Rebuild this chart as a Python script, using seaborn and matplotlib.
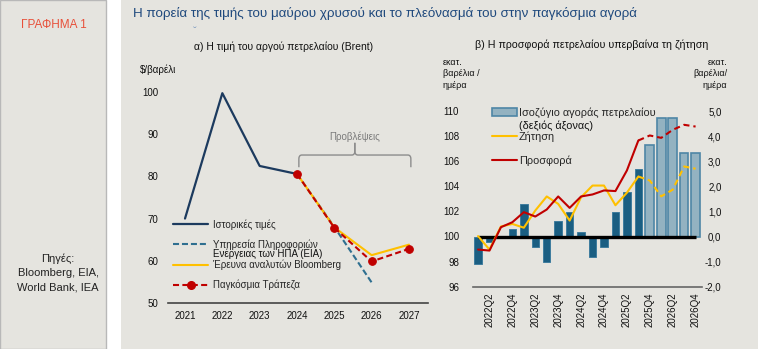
import numpy as np
import pandas as pd
import matplotlib
matplotlib.use("Agg")
import matplotlib.pyplot as plt
import seaborn as sns
from matplotlib.patches import Rectangle, PathPatch, Patch
from matplotlib.path import Path
from matplotlib.lines import Line2D

# ---------------- data ----------------
hist_years = [2021, 2022, 2023, 2024]
hist_price = [70.0, 99.8, 82.5, 80.6]
eia_years = [2024, 2025, 2026]
eia_price = [80.6, 68.0, 54.8]
bbg_years = [2024, 2025, 2026, 2027]
bbg_price = [80.6, 67.9, 61.3, 63.8]
wb_years = [2024, 2025, 2026, 2027]
wb_price = [80.6, 67.8, 59.8, 62.8]
year_ticks = [2021, 2022, 2023, 2024, 2025, 2026, 2027]
forecast_span = [2024, 2027]

quarters = ["2022Q1", "2022Q2", "2022Q3", "2022Q4",
            "2023Q1", "2023Q2", "2023Q3", "2023Q4",
            "2024Q1", "2024Q2", "2024Q3", "2024Q4",
            "2025Q1", "2025Q2", "2025Q3", "2025Q4",
            "2026Q1", "2026Q2", "2026Q3", "2026Q4"]
balance = [-1.1, -0.2, 0.03, 0.28, 1.3, -0.4, -1.0, 0.6, 0.97, 0.17,
           -0.8, -0.4, 0.98, 1.79, 2.70, 3.63, 4.73, 4.73, 3.32, 3.32]
demand = [100.03, 98.96, 100.8, 101.0, 100.7, 102.07, 103.19, 102.6, 101.27, 103.13,
          104.06, 104.06, 102.49, 103.49, 104.78, 104.46, 103.2, 103.73, 105.58, 105.4]
supply = [98.96, 98.88, 100.74, 101.14, 101.94, 101.59, 102.15, 103.19, 102.28, 103.19,
          103.35, 103.67, 103.62, 105.26, 107.65, 108.05, 107.86, 108.5, 108.9, 108.76]
n_actual = 15  # 2022Q1 .. 2025Q3 are actual values

# ---------------- style ----------------
sns.set_theme(style="white")
plt.rcParams["font.family"] = ["Liberation Sans", "DejaVu Sans"]

BG = "#E5E4DF"
NAVY = "#1C3A5E"
TEAL = "#2F6F90"
YEL = "#FFC000"
RED = "#C00000"
DARK = "#1A5E82"
LIGHT = "#93B2C1"
EDGE = "#4E86A6"
TITLE = "#1F497D"

W, H = 758, 349
fig = plt.figure(figsize=(W / 100, H / 100), dpi=100)
fig.patch.set_facecolor("white")

def fx(px):
    return px / W

def fy(py):
    return 1 - py / H

# panels
fig.add_artist(Rectangle((0, 0), fx(106), 1, transform=fig.transFigure,
                         facecolor=BG, edgecolor="#B8B8B8", lw=1, zorder=0))
fig.add_artist(Rectangle((fx(121), 0), 1 - fx(121), 1, transform=fig.transFigure,
                         facecolor=BG, edgecolor="none", zorder=0))

fig.text(fx(54), fy(25), "ΓΡΑΦΗΜΑ 1", color="#E8503A", fontsize=8.5, ha="center", va="center")
fig.text(fx(58), fy(273), "Πηγές:\nBloomberg, EIA,\nWorld Bank, IEA", color="#222222",
         fontsize=8, ha="center", va="center", linespacing=1.5)
fig.text(fx(133), fy(14), "Η πορεία της τιμής του μαύρου χρυσού και το πλεόνασμά του στην παγκόσμια αγορά",
         color=TITLE, fontsize=9.6, ha="left", va="center")
fig.text(fx(195), fy(32), "ˇ", color="#7F9CC0", fontsize=8, ha="center", va="center")

# ---------------- left chart ----------------
ax1 = fig.add_axes([fx(168), fy(302.7), fx(428) - fx(168), (302.7 - 71.3) / H])
ax1.set_facecolor("none")
sns.lineplot(x=hist_years, y=hist_price, color=NAVY, lw=1.6, ax=ax1)
sns.lineplot(x=eia_years, y=eia_price, color=TEAL, lw=1.5, linestyle=(0, (2.9, 1.4)), ax=ax1)
sns.lineplot(x=bbg_years, y=bbg_price, color=YEL, lw=1.5, ax=ax1)
sns.lineplot(x=wb_years, y=wb_price, color=RED, lw=1.5, linestyle=(0, (2.9, 1.6)),
             marker="o", markersize=5.5, markeredgecolor=RED, ax=ax1)
ax1.set_xlim(2021 - 17 / 37.33, 2027 + 19 / 37.33)
ax1.set_ylim(50, 105)
ax1.set_yticks([50, 60, 70, 80, 90, 100])
ax1.set_xticks(year_ticks)
ax1.set_xticklabels([str(y) for y in year_ticks])
ax1.tick_params(axis="both", length=0, labelsize=7, colors="#111111")
ax1.tick_params(axis="y", pad=7)
ax1.tick_params(axis="x", pad=6)
for s in ["left", "right", "top"]:
    ax1.spines[s].set_visible(False)
ax1.spines["bottom"].set_color("#444444")
ax1.spines["bottom"].set_linewidth(1.2)
ax1.set_xlabel("")
ax1.set_ylabel("")

# forecast brace
x0, x1 = forecast_span[0] + 0.05, forecast_span[1] + 0.05
xm = (x0 + x1) / 2
yh, ye, yp = 85.1, 82.2, 88.0
dx, dy = 0.08, 0.9
verts_l = [(x0, ye), (x0, yh - dy), (x0, yh), (x0 + dx, yh), (xm - dx, yh), (xm, yh), (xm, yh + dy), (xm, yp)]
verts_r = [(x1, ye), (x1, yh - dy), (x1, yh), (x1 - dx, yh), (xm + dx, yh), (xm, yh), (xm, yh + dy), (xm, yp)]
codes = [Path.MOVETO, Path.LINETO, Path.CURVE3, Path.CURVE3, Path.LINETO, Path.CURVE3, Path.CURVE3, Path.LINETO]
for v in (verts_l, verts_r):
    ax1.add_patch(PathPatch(Path(v, codes), facecolor="none", edgecolor="#8C8C8C", lw=1))
ax1.text(xm, 89.4, "Προβλέψεις", color="#7A7A7A", fontsize=7, ha="center", va="center")

h_hist = Line2D([], [], color=NAVY, lw=1.6)
h_eia = Line2D([], [], color=TEAL, lw=1.5, linestyle=(0, (2.9, 1.4)))
h_bbg = Line2D([], [], color=YEL, lw=1.5)
h_wb = Line2D([], [], color=RED, lw=1.5, linestyle=(0, (2.9, 1.6)), marker="o", markersize=5.5)
leg1 = ax1.legend([h_hist, h_eia, h_bbg, h_wb],
                  ["Ιστορικές τιμές", "Υπηρεσία Πληροφοριών", "Έρευνα αναλυτών Bloomberg", "Παγκόσμια Τράπεζα"],
                  loc="upper left", bbox_to_anchor=(fx(173), fy(219)), bbox_transform=fig.transFigure,
                  frameon=False, fontsize=7, handlelength=3.6, handletextpad=0.5,
                  labelspacing=1.0, borderpad=0, borderaxespad=0, numpoints=1)
fig.text(fx(213), fy(253.5), "Ενέργειας των ΗΠΑ (EIA)", fontsize=7, ha="left", va="center", color="#111111")

fig.text(fx(140), fy(70), "$/βαρέλι", fontsize=7, ha="left", va="center", color="#111111")
fig.text(fx(194), fy(47), "α) Η τιμή του αργού πετρελαίου (Brent)", fontsize=7.5, ha="left", va="center",
         color="#111111")

# ---------------- right chart ----------------
idx = np.arange(len(quarters))
axb = fig.add_axes([fx(473), fy(286.7), fx(702) - fx(473), (286.7 - 85.9) / H])
axb.set_facecolor("none")
sns.barplot(x=idx[:n_actual], y=balance[:n_actual], native_scale=True, color=DARK, width=0.65,
            saturation=1, errorbar=None, ax=axb, edgecolor="#3F7C9E", linewidth=0.7)
sns.barplot(x=idx[n_actual:], y=balance[n_actual:], native_scale=True, color=LIGHT, width=0.75,
            saturation=1, errorbar=None, ax=axb, edgecolor=EDGE, linewidth=1.2)
axb.hlines(0, idx[0], idx[-1], color="black", lw=2.4, zorder=5)
axb.set_ylim(-2, 6)
axb.set_xlim(-0.44, len(quarters) - 1 + 0.56)

ax2 = axb.twinx()
ax2.set_facecolor("none")
sns.lineplot(x=idx[:n_actual], y=demand[:n_actual], color=YEL, lw=1.5, ax=ax2)
sns.lineplot(x=idx[n_actual - 1:], y=demand[n_actual - 1:], color=YEL, lw=1.5,
             linestyle=(0, (2.9, 1.9)), ax=ax2)
sns.lineplot(x=idx[:n_actual], y=supply[:n_actual], color=RED, lw=1.5, ax=ax2)
sns.lineplot(x=idx[n_actual - 1:], y=supply[n_actual - 1:], color=RED, lw=1.5,
             linestyle=(0, (2.9, 1.9)), ax=ax2)
ax2.set_ylim(96, 112)
ax2.set_xlim(-0.44, len(quarters) - 1 + 0.56)

ax2.yaxis.set_ticks_position("left")
ax2.yaxis.set_label_position("left")
axb.yaxis.set_ticks_position("right")
ax2.set_yticks([96, 98, 100, 102, 104, 106, 108, 110])
axb.set_yticks([-2, -1, 0, 1, 2, 3, 4, 5])
axb.set_yticklabels([f"{v:.1f}".replace(".", ",") for v in [-2, -1, 0, 1, 2, 3, 4, 5]])
ax2.tick_params(axis="y", length=0, labelsize=7, pad=10, colors="#111111", labelleft=True, labelright=False)
axb.tick_params(axis="y", length=0, labelsize=7, pad=14, colors="#111111", labelright=True, labelleft=False)
for lab in axb.get_yticklabels():
    lab.set_horizontalalignment("right")

tick_idx = idx[1::2]
axb.set_xticks(tick_idx)
axb.set_xticklabels([quarters[i] for i in tick_idx], rotation=90, va="top")
axb.tick_params(axis="x", length=0, labelsize=7, pad=4, colors="#111111")
ax2.tick_params(axis="x", length=0, labelbottom=False)
for a in (axb, ax2):
    for s in ["left", "right", "top", "bottom"]:
        a.spines[s].set_visible(False)
    a.set_xlabel("")
    a.set_ylabel("")
axb.spines["bottom"].set_visible(True)
axb.spines["bottom"].set_color("#666666")
axb.spines["bottom"].set_linewidth(1.2)

h_bal = Patch(facecolor=LIGHT, edgecolor=EDGE, lw=1.2)
h_dem = Line2D([], [], color=YEL, lw=1.5)
h_sup = Line2D([], [], color=RED, lw=1.5)
ax2.legend([h_bal, h_dem, h_sup], ["Ισοζύγιο αγοράς πετρελαίου", "Ζήτηση", "Προσφορά"],
           loc="upper left", bbox_to_anchor=(fx(492), fy(107)), bbox_transform=fig.transFigure,
           frameon=False, fontsize=7.8, handlelength=2.3, handletextpad=0.2,
           labelspacing=1.25, borderpad=0, borderaxespad=0)
fig.text(fx(519), fy(125.5), "(δεξιός άξονας)", fontsize=7.8, ha="left", va="center", color="#111111")

fig.text(fx(475), fy(45), "β) Η προσφορά πετρελαίου υπερβαίνα τη ζήτηση", fontsize=7.7,
         ha="left", va="center", color="#111111")
fig.text(fx(443), fy(74), "εκατ.\nβαρέλια /\nημέρα", fontsize=6.5, ha="left", va="center",
         linespacing=1.35, color="#111111")
fig.text(fx(727), fy(74), "εκατ.\nβαρέλια/\nημέρα", fontsize=6.5, ha="right", va="center",
         multialignment="right", linespacing=1.35, color="#111111")

fig.savefig("out.png", dpi=100, facecolor=fig.get_facecolor())
